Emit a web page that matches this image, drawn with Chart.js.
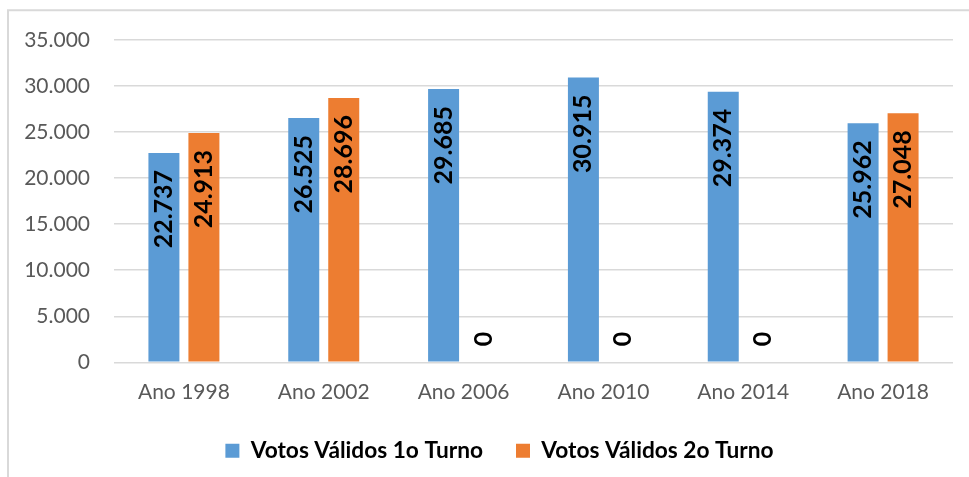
<!DOCTYPE html>
<html>
<head>
<meta charset="utf-8">
<script src="https://cdn.jsdelivr.net/npm/chart.js@4/dist/chart.umd.min.js"></script>
<style>
  html, body { margin: 0; padding: 0; background: #fff; }
  #wrap { width: 969px; height: 477px; position: relative; }
</style>
</head>
<body>
<div id="wrap"><canvas id="votos"></canvas></div>
<script>
var anos = ['Ano 1998', 'Ano 2002', 'Ano 2006', 'Ano 2010', 'Ano 2014', 'Ano 2018']
var turno1 = [22737, 26525, 29685, 30915, 29374, 25962]
var turno2 = [24913, 28696, 0, 0, 0, 27048]
var nomes = ['Votos Válidos 1o Turno', 'Votos Válidos 2o Turno']
var cores = ['#5B9BD5', '#ED7D31']

var fonte = 'Lato, "Open Sans", sans-serif'
var espacoLegenda = 33

// 35000 -> "35.000"
function milhar(v) {
  return String(Math.round(v)).replace(/\B(?=(\d{3})+(?!\d))/g, '.')
}

// moldura cinza do gráfico (esquerda e topo)
var moldura = {
  id: 'moldura',
  beforeDraw: function (chart) {
    var ctx = chart.ctx
    ctx.save()
    ctx.strokeStyle = '#D9D9D9'
    ctx.lineWidth = 2
    ctx.beginPath()
    ctx.moveTo(8, chart.height)
    ctx.lineTo(8, 10.3)
    ctx.lineTo(chart.width, 10.3)
    ctx.stroke()
    ctx.restore()
  }
}

// legenda um pouco mais à direita
var legendaDireita = {
  id: 'legendaDireita',
  afterLayout: function (chart) {
    chart.legend.left += 18
    chart.legend.right += 18
  }
}

// rótulos verticais dentro das barras
var rotulos = {
  id: 'rotulos',
  afterDatasetsDraw: function (chart) {
    var ctx = chart.ctx
    ctx.save()
    ctx.font = 'bold 25px ' + fonte
    ctx.fillStyle = '#000'
    ctx.textBaseline = 'middle'
    chart.data.datasets.forEach(function (ds, i) {
      var meta = chart.getDatasetMeta(i)
      meta.data.forEach(function (bar, j) {
        var v = ds.data[j]
        ctx.save()
        if (v > 0) {
          ctx.translate(bar.x, bar.y + 17)
          ctx.rotate(-Math.PI / 2)
          ctx.textAlign = 'right'
        } else {
          ctx.translate(bar.x, bar.base - 16)
          ctx.rotate(-Math.PI / 2)
          ctx.textAlign = 'left'
        }
        ctx.fillText(milhar(v), 0, 0)
        ctx.restore()
      })
    })
    ctx.restore()
  }
}

var canvas = document.getElementById('votos')
var ctx = canvas.getContext('2d')

new Chart(ctx, {
  type: 'bar',
  data: {
    labels: anos,
    datasets: [
      { label: nomes[0], data: turno1, backgroundColor: cores[0] },
      { label: nomes[1], data: turno2, backgroundColor: cores[1] }
    ]
  },
  plugins: [moldura, legendaDireita, rotulos],
  options: {
    responsive: true,
    maintainAspectRatio: false,
    animation: false,
    layout: { padding: { left: 10, right: 16, top: 40, bottom: 5 } },
    datasets: {
      bar: { categoryPercentage: 0.572, barPercentage: 0.775 }
    },
    scales: {
      x: {
        grid: { display: false, drawTicks: false },
        border: { display: false },
        ticks: { color: '#595959', padding: 17, font: { family: fonte, size: 21 } },
        afterFit: function (scale) { scale.height = 77 - espacoLegenda }
      },
      y: {
        min: 0,
        max: 35000,
        grid: { color: '#D9D9D9', lineWidth: 1.5, drawTicks: false },
        border: { display: false },
        ticks: {
          stepSize: 5000,
          color: '#595959',
          padding: 24,
          font: { family: fonte, size: 21 },
          callback: function (v) { return milhar(v) }
        },
        afterFit: function (scale) { scale.width = 104 }
      }
    },
    plugins: {
      tooltip: { enabled: false },
      legend: {
        position: 'bottom',
        labels: {
          boxWidth: 14,
          boxHeight: 14,
          padding: espacoLegenda,
          color: '#000',
          font: { family: fonte, size: 22.7, weight: 'bold' }
        }
      }
    }
  }
})
</script>
</body>
</html>
